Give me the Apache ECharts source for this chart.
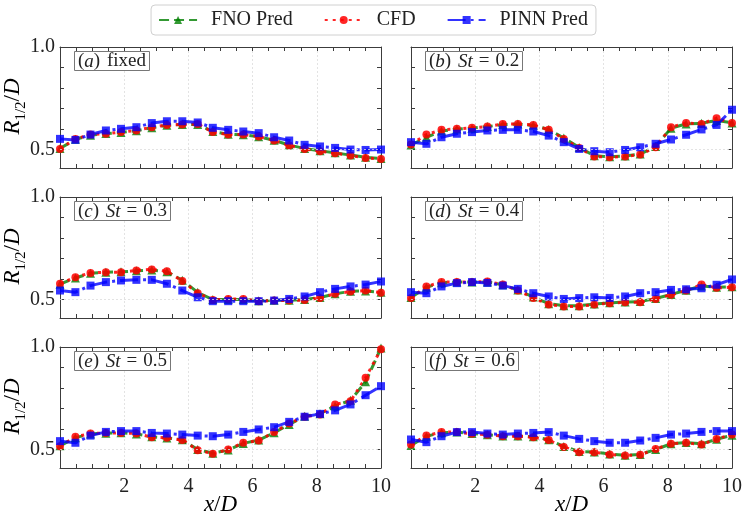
<!DOCTYPE html>
<html lang="en">
<head>
    <meta charset="UTF-8">
    <title>R1/2 profiles</title>
    <script src="https://cdn.jsdelivr.net/npm/echarts@6/dist/echarts.min.js"></script>
</head>
<body style="margin:0;background:#fff">
<div id="chart" style="width:746px;height:522px;"></div>
<script>
    // x/D sample positions
    var xs = [0, 0.48, 0.95, 1.43, 1.9, 2.38, 2.86, 3.33, 3.81, 4.29, 4.76, 5.24, 5.71, 6.19, 6.67, 7.14, 7.62, 8.1, 8.57, 9.05, 9.52, 10];

    // (a) fixed
    var fnoA  = [0.505, 0.550, 0.570, 0.578, 0.583, 0.592, 0.606, 0.618, 0.622, 0.622, 0.588, 0.575, 0.572, 0.562, 0.545, 0.522, 0.505, 0.494, 0.484, 0.473, 0.462, 0.456];
    var cfdA  = [0.503, 0.552, 0.573, 0.577, 0.585, 0.593, 0.609, 0.620, 0.622, 0.625, 0.585, 0.573, 0.573, 0.564, 0.544, 0.520, 0.503, 0.492, 0.482, 0.471, 0.459, 0.454];
    var pinnA = [0.552, 0.547, 0.573, 0.593, 0.601, 0.609, 0.629, 0.638, 0.638, 0.632, 0.606, 0.596, 0.588, 0.580, 0.560, 0.544, 0.523, 0.515, 0.508, 0.500, 0.498, 0.500];
    // (b) St = 0.2
    var fnoB  = [0.522, 0.560, 0.590, 0.600, 0.604, 0.612, 0.622, 0.624, 0.618, 0.598, 0.556, 0.510, 0.470, 0.465, 0.468, 0.478, 0.515, 0.604, 0.625, 0.628, 0.642, 0.630];
    var cfdB  = [0.525, 0.573, 0.596, 0.601, 0.606, 0.612, 0.625, 0.625, 0.620, 0.596, 0.552, 0.508, 0.466, 0.463, 0.466, 0.476, 0.511, 0.609, 0.630, 0.625, 0.653, 0.629];
    var pinnB = [0.536, 0.528, 0.560, 0.577, 0.585, 0.593, 0.596, 0.596, 0.588, 0.568, 0.536, 0.503, 0.492, 0.487, 0.498, 0.511, 0.528, 0.549, 0.572, 0.598, 0.620, 0.694];
    // (c) St = 0.3
    var fnoC  = [0.575, 0.605, 0.628, 0.633, 0.635, 0.640, 0.644, 0.636, 0.594, 0.535, 0.500, 0.500, 0.500, 0.494, 0.496, 0.497, 0.500, 0.510, 0.528, 0.540, 0.542, 0.535];
    var cfdC  = [0.577, 0.609, 0.630, 0.633, 0.633, 0.642, 0.647, 0.638, 0.590, 0.531, 0.498, 0.503, 0.503, 0.492, 0.495, 0.495, 0.498, 0.508, 0.528, 0.539, 0.544, 0.533];
    var pinnC = [0.544, 0.536, 0.568, 0.585, 0.593, 0.596, 0.596, 0.577, 0.544, 0.511, 0.492, 0.492, 0.492, 0.492, 0.495, 0.503, 0.515, 0.536, 0.552, 0.564, 0.573, 0.588];
    // (d) St = 0.4
    var fnoD  = [0.510, 0.560, 0.582, 0.585, 0.586, 0.586, 0.572, 0.546, 0.512, 0.480, 0.470, 0.470, 0.478, 0.484, 0.488, 0.490, 0.505, 0.525, 0.545, 0.566, 0.560, 0.562];
    var cfdD  = [0.508, 0.564, 0.585, 0.585, 0.585, 0.588, 0.573, 0.544, 0.508, 0.476, 0.466, 0.466, 0.476, 0.482, 0.487, 0.487, 0.503, 0.523, 0.544, 0.573, 0.557, 0.560];
    var pinnD = [0.536, 0.531, 0.564, 0.580, 0.585, 0.581, 0.568, 0.552, 0.531, 0.515, 0.503, 0.507, 0.511, 0.508, 0.515, 0.531, 0.536, 0.547, 0.550, 0.555, 0.572, 0.598];
    // (e) St = 0.5
    var fnoE  = [0.518, 0.558, 0.576, 0.580, 0.582, 0.576, 0.562, 0.556, 0.548, 0.500, 0.482, 0.498, 0.530, 0.546, 0.582, 0.622, 0.662, 0.675, 0.712, 0.740, 0.830, 0.995];
    var cfdE  = [0.516, 0.562, 0.578, 0.581, 0.581, 0.578, 0.560, 0.557, 0.546, 0.497, 0.480, 0.500, 0.533, 0.544, 0.585, 0.627, 0.660, 0.671, 0.720, 0.736, 0.850, 0.989];
    var pinnE = [0.541, 0.533, 0.568, 0.586, 0.590, 0.590, 0.581, 0.578, 0.573, 0.568, 0.565, 0.573, 0.586, 0.598, 0.609, 0.635, 0.660, 0.674, 0.691, 0.720, 0.765, 0.809];
    // (f) St = 0.6
    var fnoF  = [0.520, 0.565, 0.582, 0.585, 0.578, 0.572, 0.566, 0.566, 0.562, 0.548, 0.515, 0.490, 0.488, 0.478, 0.472, 0.476, 0.500, 0.528, 0.534, 0.528, 0.550, 0.570];
    var cfdF  = [0.524, 0.568, 0.585, 0.585, 0.577, 0.572, 0.565, 0.565, 0.560, 0.546, 0.513, 0.487, 0.487, 0.476, 0.471, 0.474, 0.503, 0.528, 0.533, 0.524, 0.552, 0.573];
    var pinnF = [0.549, 0.536, 0.565, 0.585, 0.585, 0.578, 0.573, 0.578, 0.581, 0.585, 0.568, 0.552, 0.541, 0.533, 0.533, 0.544, 0.557, 0.573, 0.578, 0.586, 0.590, 0.590];

    var seriesNames = ['FNO Pred', 'CFD', 'PINN Pred'];
    var panelLabels = ['({i|a}){g| }fixed', '({i|b}){g| }{i|St}{e|=}0.2', '({i|c}){g| }{i|St}{e|=}0.3',
                       '({i|d}){g| }{i|St}{e|=}0.4', '({i|e}){g| }{i|St}{e|=}0.5', '({i|f}){g| }{i|St}{e|=}0.6'];
    var yTickValues = [0.5, 0.6, 0.7, 0.8, 0.9, 1.0];
    var yLabelValues = [0.5, 1.0];

    var panels = [
        [fnoA, cfdA, pinnA], [fnoB, cfdB, pinnB],
        [fnoC, cfdC, pinnC], [fnoD, cfdD, pinnD],
        [fnoE, cfdE, pinnE], [fnoF, cfdF, pinnF]
    ];

    var myChart = echarts.init(document.getElementById('chart'));
    var font = 'Liberation Serif';
    var frame = '#3c3c3c';
    var lefts = [60, 411];
    var tops = [47, 197, 347];
    var W = 321, H = 121;

    var styles = [
        {symbol: 'triangle', size: 9, color: 'rgba(0,128,0,0.8)', dash: [10, 5]},
        {symbol: 'circle', size: 8, color: 'rgba(255,0,0,0.85)', dash: [3, 5]},
        {symbol: 'rect', size: 8, color: 'rgba(0,0,255,0.8)', dash: [18, 5, 3, 5]}
    ];

    var grid = [], xAxis = [], yAxis = [], series = [], title = [], graphic = [];

    panels.forEach(function (p, i) {
        var col = i % 2, row = Math.floor(i / 2);
        grid.push({left: lefts[col], top: tops[row], width: W, height: H});

        var tick = {show: true, inside: true, length: 4, lineStyle: {color: frame, width: 1}};
        xAxis.push({
            gridIndex: i, type: 'value', min: 0, max: 10, interval: 2, position: 'bottom',
            axisLine: {show: true, onZero: false, lineStyle: {color: frame, width: 1}},
            axisTick: tick,
            minorTick: {show: true, splitNumber: 4, length: 4, lineStyle: {color: frame}},
            axisLabel: {show: row === 2, showMinLabel: false, margin: 9, color: '#222', fontFamily: font, fontSize: 20},
            splitLine: {show: true, lineStyle: {color: '#dcdcdc', type: [2, 2], width: 0.8}}
        });
        xAxis.push({
            gridIndex: i, type: 'value', min: 0, max: 10, interval: 2, position: 'top',
            axisLine: {show: true, onZero: false, lineStyle: {color: frame, width: 1}},
            axisTick: tick,
            minorTick: {show: true, splitNumber: 4, length: 4, lineStyle: {color: frame}},
            axisLabel: {show: false},
            splitLine: {show: false}
        });
        yAxis.push({
            gridIndex: i, type: 'value', min: 0.41, max: 1.0, position: 'left',
            axisLine: {show: true, onZero: false, lineStyle: {color: frame, width: 1}},
            axisTick: {show: true, inside: true, length: 4, customValues: yTickValues, lineStyle: {color: frame}},
            axisLabel: {show: col === 0, customValues: yLabelValues, margin: 5, color: '#222', fontFamily: font, fontSize: 20,
                formatter: function (v) { return v.toFixed(1); }},
            splitLine: {show: false}
        });
        yAxis.push({
            gridIndex: i, type: 'value', min: 0.41, max: 1.0, position: 'right',
            axisLine: {show: true, onZero: false, lineStyle: {color: frame, width: 1}},
            axisTick: {show: true, inside: true, length: 4, customValues: yTickValues, lineStyle: {color: frame}},
            axisLabel: {show: false},
            splitLine: {show: false}
        });

        p.forEach(function (vals, k) {
            var s = styles[k];
            series.push({
                name: seriesNames[k], type: 'line',
                xAxisIndex: 2 * i, yAxisIndex: 2 * i,
                data: xs.map(function (x, j) { return [x, vals[j]]; }),
                symbol: s.symbol, symbolSize: s.size, showAllSymbol: true,
                lineStyle: {color: s.color, width: 3, type: s.dash},
                itemStyle: {color: s.color},
                clip: true, animation: false
            });
        });

        // dotted guide at 0.5
        series.push({
            type: 'line', xAxisIndex: 2 * i, yAxisIndex: 2 * i, data: [], silent: true,
            markLine: {symbol: 'none', silent: true, label: {show: false},
                lineStyle: {color: '#dcdcdc', type: [2, 2], width: 0.8}, data: [{yAxis: 0.5}]},
            z: 1
        });

        var base = {fontFamily: font, fontSize: 19, color: '#222'};
        title.push({
            text: panelLabels[i],
            left: lefts[col] + 14, top: tops[row] + 4,
            padding: [1, 4, 0, 4],
            borderColor: '#777', borderWidth: 1, backgroundColor: '#fff',
            textStyle: {
                fontFamily: font, fontSize: 19, fontWeight: 'normal', color: '#222',
                rich: {
                    i: Object.assign({fontStyle: 'italic'}, base),
                    g: Object.assign({padding: [0, 1, 0, 1]}, base),
                    e: Object.assign({padding: [0, 6, 0, 6]}, base)
                }
            }
        });
    });

    var axisRich = {
        i: {fontFamily: font, fontSize: 23, fontStyle: 'italic', color: '#222', verticalAlign: 'top', lineHeight: 28},
        n: {fontFamily: font, fontSize: 23, color: '#222', verticalAlign: 'top', lineHeight: 28},
        s: {fontFamily: font, fontSize: 15, color: '#222', verticalAlign: 'bottom', lineHeight: 15}
    };
    tops.forEach(function (t) {
        graphic.push({
            type: 'text', x: 15, y: t + H / 2 - 1, rotation: Math.PI / 2,
            style: {text: '{i|R}{s|1/2}{n|/}{i|D}', rich: axisRich, align: 'center', verticalAlign: 'middle'}
        });
    });
    lefts.forEach(function (l) {
        graphic.push({
            type: 'text', x: l + W / 2, y: 507,
            style: {text: '{i|x}{n|/}{i|D}', rich: axisRich, align: 'center', verticalAlign: 'middle'}
        });
    });

    var option = {
        backgroundColor: '#fff',
        animation: false,
        legend: {
            data: seriesNames,
            top: 5, left: 'center',
            padding: [5, 8, 5, 7],
            borderColor: '#d0d0d0', borderWidth: 1, borderRadius: 4,
            itemWidth: 38, itemHeight: 10, itemGap: 31,
            textStyle: {fontFamily: font, fontSize: 20, color: '#222', padding: [0, 0, 0, 9]}
        },
        title: title,
        grid: grid,
        xAxis: xAxis,
        yAxis: yAxis,
        series: series,
        graphic: graphic
    };

    myChart.setOption(option);
</script>
</body>
</html>
